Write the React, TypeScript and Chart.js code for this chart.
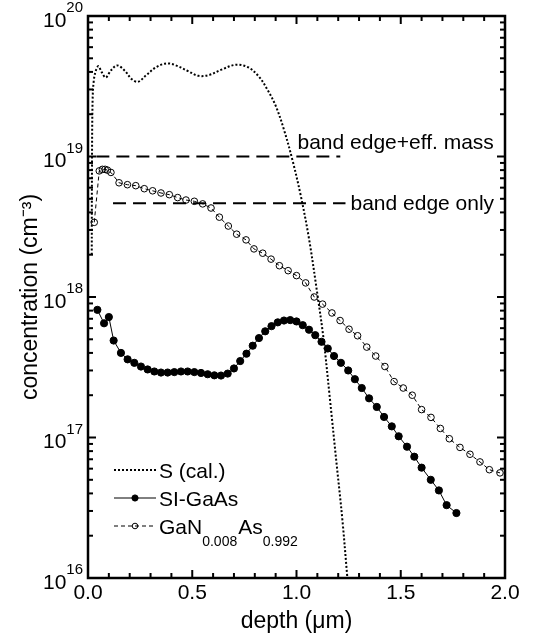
import React, { useEffect, useRef } from 'react';
import { Chart, registerables } from 'chart.js';

Chart.register(...registerables);

const FONT = "'Liberation Sans', Arial, Helvetica, sans-serif";

// ---- S (cal.) simulated profile ----
const sDepth = [0.018, 0.019, 0.022, 0.028, 0.038, 0.05, 0.065, 0.085, 0.11, 0.14, 0.175, 0.21, 0.24, 0.28, 0.33, 0.38, 0.43, 0.48, 0.53, 0.58, 0.64, 0.71, 0.77, 0.82, 0.86, 0.9, 0.94, 0.98, 1.02, 1.06, 1.1, 1.13, 1.16, 1.19, 1.22, 1.244];
const sConc = [2.0e18, 8.0e18, 2.5e19, 3.5e19, 4.1e19, 4.4e19, 4.0e19, 3.65e19, 4.1e19, 4.45e19, 4.1e19, 3.55e19, 3.4e19, 3.8e19, 4.35e19, 4.6e19, 4.4e19, 4.05e19, 3.75e19, 3.8e19, 4.15e19, 4.5e19, 4.3e19, 3.7e19, 3.0e19, 2.3e19, 1.55e19, 9.5e18, 5.3e18, 2.6e18, 1.05e18, 5.0e17, 1.9e17, 7.0e16, 2.6e16, 1.0e16];

// ---- SI-GaAs ----
const siDepth = [0.045, 0.077, 0.1, 0.123, 0.158, 0.19, 0.222, 0.254, 0.286, 0.318, 0.35, 0.382, 0.414, 0.446, 0.478, 0.51, 0.542, 0.574, 0.606, 0.638, 0.67, 0.7, 0.73, 0.76, 0.79, 0.82, 0.85, 0.88, 0.91, 0.94, 0.97, 1.0, 1.03, 1.06, 1.09, 1.12, 1.15, 1.18, 1.213, 1.248, 1.28, 1.313, 1.348, 1.385, 1.42, 1.457, 1.49, 1.53, 1.565, 1.6, 1.644, 1.683, 1.72, 1.767];
const siConc = [8.1e17, 6.5e17, 7.2e17, 4.9e17, 4.0e17, 3.6e17, 3.4e17, 3.2e17, 3.05e17, 2.95e17, 2.9e17, 2.9e17, 2.92e17, 2.95e17, 2.95e17, 2.92e17, 2.88e17, 2.82e17, 2.77e17, 2.76e17, 2.85e17, 3.1e17, 3.5e17, 3.95e17, 4.5e17, 5.1e17, 5.7e17, 6.2e17, 6.6e17, 6.8e17, 6.85e17, 6.7e17, 6.3e17, 5.85e17, 5.35e17, 4.8e17, 4.3e17, 3.8e17, 3.4e17, 3.0e17, 2.6e17, 2.25e17, 1.9e17, 1.65e17, 1.4e17, 1.2e17, 1.02e17, 8.6e16, 7.3e16, 6.1e16, 5.0e16, 4.2e16, 3.3e16, 2.9e16];

// ---- GaN0.008As0.992 ----
const ganDepth = [0.03, 0.054, 0.069, 0.082, 0.093, 0.11, 0.149, 0.189, 0.229, 0.27, 0.31, 0.35, 0.39, 0.43, 0.47, 0.51, 0.55, 0.59, 0.63, 0.673, 0.713, 0.758, 0.796, 0.838, 0.878, 0.918, 0.96, 1.0, 1.044, 1.085, 1.125, 1.17, 1.209, 1.252, 1.293, 1.337, 1.38, 1.424, 1.468, 1.512, 1.555, 1.6, 1.645, 1.69, 1.733, 1.784, 1.832, 1.88, 1.925, 1.976];
const ganConc = [3.4e18, 7.9e18, 8.1e18, 8.1e18, 8.0e18, 7.7e18, 6.5e18, 6.3e18, 6.2e18, 5.9e18, 5.7e18, 5.5e18, 5.35e18, 5.1e18, 4.9e18, 4.8e18, 4.6e18, 4.3e18, 3.7e18, 3.2e18, 2.8e18, 2.55e18, 2.2e18, 2.05e18, 1.86e18, 1.67e18, 1.54e18, 1.42e18, 1.26e18, 1.0e18, 8.9e17, 7.7e17, 6.8e17, 5.9e17, 5.3e17, 4.4e17, 3.8e17, 3.2e17, 2.5e17, 2.25e17, 2.0e17, 1.58e17, 1.39e17, 1.16e17, 9.8e16, 8.5e16, 7.6e16, 6.7e16, 5.9e16, 5.6e16];

// ---- reference levels ----
const refLabels = ['band edge+eff. mass', 'band edge only'];
const refValues = [1.0e19, 4.65e18];
const refStart = [0.04, 0.12];
const refEnd = [1.21, 1.235];

// ---- axes ----
const xTickLabels = ['0.0', '0.5', '1.0', '1.5', '2.0'];
const yDecades = [1e16, 1e17, 1e18, 1e19, 1e20];
const yTickBase = '10';
const yTickExps = ['16', '17', '18', '19', '20'];
const yMinorMantissas = [2, 3, 4, 5, 6, 7, 8, 9];
const xTitle = 'depth (\u03BCm)';
const yTitle = 'concentration (cm\u207B\u00B3)';

// ---- legend ----
const legendLabels: [string, boolean][][] = [
  [['S (cal.)', false]],
  [['SI-GaAs', false]],
  [['GaN', false], ['0.008', true], ['As', false], ['0.992', true]],
];

const pts = (xs: number[], ys: number[]) => xs.map((x, i) => ({ x, y: ys[i] }));

const framePlugin = {
  id: 'frameTicksLegend',
  afterDraw(chart: any) {
    const { ctx, chartArea: ca, scales } = chart;
    const xs = scales.x;
    const ys = scales.y;
    ctx.save();
    ctx.strokeStyle = '#000';
    ctx.fillStyle = '#000';
    const seg = (x1: number, y1: number, x2: number, y2: number) => {
      ctx.beginPath();
      ctx.moveTo(x1, y1);
      ctx.lineTo(x2, y2);
      ctx.stroke();
    };
    // x ticks (inward, top & bottom)
    ctx.lineWidth = 2;
    xs.ticks.forEach((t: any) => {
      const px = xs.getPixelForValue(t.value);
      const k = Math.round(t.value / 0.5);
      const major = Math.abs(t.value - k * 0.5) < 1e-6;
      const len = major ? 8 : 5;
      seg(px, ca.bottom, px, ca.bottom - len);
      seg(px, ca.top, px, ca.top + len);
    });
    // y ticks (inward, left & right) and decade labels
    yDecades.forEach((d, i) => {
      const py = ys.getPixelForValue(d);
      seg(ca.left, py, ca.left + 8, py);
      seg(ca.right, py, ca.right - 8, py);
      if (i < yDecades.length - 1) {
        yMinorMantissas.forEach((m) => {
          const p = ys.getPixelForValue(m * d);
          seg(ca.left, p, ca.left + 5, p);
          seg(ca.right, p, ca.right - 5, p);
        });
      }
      ctx.textAlign = 'right';
      ctx.textBaseline = 'alphabetic';
      ctx.font = `15px ${FONT}`;
      const supRight = ca.left - 5;
      const supW = ctx.measureText(yTickExps[i]).width;
      ctx.fillText(yTickExps[i], supRight, py - 4);
      ctx.font = `21px ${FONT}`;
      ctx.fillText(yTickBase, supRight - supW, py + 10.5);
    });
    // frame
    ctx.lineWidth = 2.5;
    ctx.strokeRect(ca.left, ca.top, ca.right - ca.left, ca.bottom - ca.top);

    // reference labels
    ctx.font = `21px ${FONT}`;
    ctx.textAlign = 'left';
    ctx.textBaseline = 'alphabetic';
    ctx.fillText(refLabels[0], xs.getPixelForValue(1.0) + 1, ys.getPixelForValue(refValues[0]) - 8);
    ctx.fillText(refLabels[1], xs.getPixelForValue(refEnd[1]) + 5, ys.getPixelForValue(refValues[1]) + 7);

    // legend
    const lx0 = ca.left + 26;
    const lx1 = lx0 + 42;
    const rowY = [ca.bottom - 108, ca.bottom - 80, ca.bottom - 52];
    legendLabels.forEach((parts, i) => {
      const ds = chart.data.datasets[i];
      const y = rowY[i];
      ctx.save();
      ctx.lineWidth = ds.borderWidth;
      ctx.setLineDash(ds.borderDash || []);
      seg(lx0, y, lx1, y);
      ctx.restore();
      if (ds.pointRadius > 0) {
        ctx.beginPath();
        ctx.arc((lx0 + lx1) / 2, y, ds.pointRadius - 0.5, 0, Math.PI * 2);
        ctx.fillStyle = ds.pointBackgroundColor;
        ctx.fill();
        ctx.lineWidth = 1;
        ctx.strokeStyle = '#000';
        ctx.stroke();
      }
      ctx.fillStyle = '#000';
      let x = lx1 + 3;
      const base = y + 7.5;
      parts.forEach(([txt, sub]) => {
        ctx.font = sub ? `14px ${FONT}` : `21px ${FONT}`;
        ctx.fillText(txt, x, sub ? base + 12 : base);
        x += ctx.measureText(txt).width + (sub ? 1 : 0);
      });
    });
    ctx.restore();
  },
};

export default function App() {
  const ref = useRef<HTMLCanvasElement>(null);
  useEffect(() => {
    document.body.style.margin = '0';
    document.body.style.overflow = 'hidden';
    Chart.defaults.font.family = FONT;
    Chart.defaults.color = '#000';
    const canvas = ref.current!;
    const chart = new Chart(canvas, {
      type: 'line',
      data: {
        datasets: [
          {
            label: 'S (cal.)',
            data: pts(sDepth, sConc),
            borderColor: '#000',
            borderWidth: 2,
            borderDash: [2, 2],
            pointRadius: 0,
            tension: 0.35,
            fill: false,
          },
          {
            label: 'SI-GaAs',
            data: pts(siDepth, siConc),
            borderColor: '#000',
            borderWidth: 1,
            pointRadius: 3.6,
            pointBackgroundColor: '#000',
            pointBorderColor: '#000',
            pointBorderWidth: 1,
            tension: 0,
            fill: false,
          },
          {
            label: 'GaN0.008As0.992',
            data: pts(ganDepth, ganConc),
            borderColor: '#000',
            borderWidth: 1,
            borderDash: [4, 3],
            pointRadius: 3.3,
            pointBackgroundColor: 'rgba(255,255,255,0)',
            pointBorderColor: '#000',
            pointBorderWidth: 1,
            tension: 0,
            fill: false,
          },
          ...refLabels.map((lab, i) => ({
            label: lab,
            data: [
              { x: refStart[i], y: refValues[i] },
              { x: refEnd[i], y: refValues[i] },
            ],
            borderColor: '#000',
            borderWidth: 2,
            borderDash: [13, 7],
            pointRadius: 0,
            fill: false,
          })),
        ],
      },
      options: {
        responsive: false,
        animation: false,
        devicePixelRatio: 1,
        events: [],
        layout: { padding: { left: 0, right: 38, top: 16, bottom: 0 } },
        plugins: { legend: { display: false }, tooltip: { enabled: false } },
        scales: {
          x: {
            type: 'linear',
            min: 0,
            max: 2,
            grid: { display: false, drawTicks: false },
            border: { display: false },
            afterFit: (s: any) => {
              s.height = 59;
            },
            ticks: {
              stepSize: 0.1,
              autoSkip: false,
              maxRotation: 0,
              padding: 3,
              font: { size: 21 },
              color: '#000',
              callback: (v: any) => {
                const k = Math.round(Number(v) / 0.5);
                return Math.abs(Number(v) - k * 0.5) < 1e-6 ? xTickLabels[k] : '';
              },
            },
            title: {
              display: true,
              text: xTitle,
              font: { size: 23 },
              color: '#000',
              padding: { top: 0, bottom: 2 },
            },
          },
          y: {
            type: 'logarithmic',
            min: 1e16,
            max: 1e20,
            grid: { display: false, drawTicks: false },
            border: { display: false },
            afterFit: (s: any) => {
              s.width = 88;
            },
            ticks: { display: false },
            title: {
              display: true,
              text: yTitle,
              font: { size: 23 },
              color: '#000',
              padding: { top: 17, bottom: 0 },
            },
          },
        },
      },
      plugins: [framePlugin],
    } as any);
    return () => chart.destroy();
  }, []);
  return (
    <canvas
      ref={ref}
      width={543}
      height={637}
      style={{ display: 'block', width: '543px', height: '637px' }}
    />
  );
}
